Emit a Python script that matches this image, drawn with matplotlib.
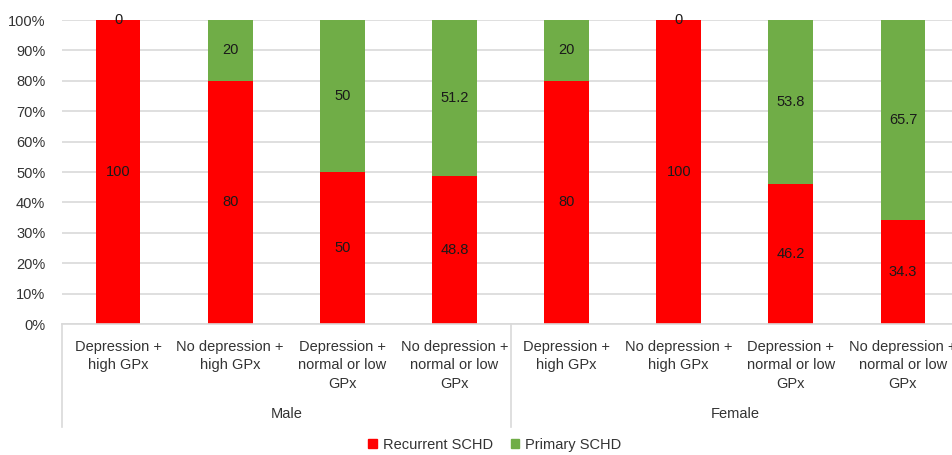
import matplotlib
matplotlib.use("Agg")
import matplotlib.pyplot as plt
from matplotlib.transforms import blended_transform_factory
from matplotlib.patches import Patch
import numpy as np

plt.rcParams['font.family'] = ['Liberation Sans', 'DejaVu Sans']

groups = ["Male", "Female"]
categories = [
    "Depression +\nhigh GPx",
    "No depression +\nhigh GPx",
    "Depression +\nnormal or low\nGPx",
    "No depression +\nnormal or low\nGPx",
]
recurrent = [100, 80, 50, 48.8, 80, 100, 46.2, 34.3]
primary = [0, 20, 50, 51.2, 20, 0, 53.8, 65.7]
recurrent_labels = ["100", "80", "50", "48.8", "80", "100", "46.2", "34.3"]
primary_labels = ["0", "20", "50", "51.2", "20", "0", "53.8", "65.7"]

RED = "#ff0000"
GREEN = "#70ad47"
GRID = "#d9d9d9"
TEXT = "#333333"
FS = 10.5

W, H = 953, 455
fig = plt.figure(figsize=(W / 100, H / 100), dpi=100)
left, right, top, bottom = 62, 959, 20, 324
ax = fig.add_axes([left / W, 1 - bottom / H, (right - left) / W, (bottom - top) / H])

n = len(recurrent)
x = np.arange(n)
ax.bar(x, recurrent, width=0.4, color=RED, zorder=2)
ax.bar(x, primary, width=0.4, bottom=recurrent, color=GREEN, zorder=2)

for i in range(n):
    ax.text(x[i], recurrent[i] / 2, recurrent_labels[i], ha="center", va="center",
            fontsize=FS, color="#1a1a1a", zorder=3)
    ax.text(x[i], recurrent[i] + primary[i] / 2, primary_labels[i], ha="center", va="center",
            fontsize=FS, color="#1a1a1a", zorder=3)

ax.set_xlim(-0.5, n - 0.5)
ax.set_ylim(0, 100)
ax.set_yticks(np.arange(0, 101, 10))
ax.set_yticklabels([f"{v}%" for v in range(0, 101, 10)], fontsize=FS, color=TEXT)
ax.yaxis.grid(True, color=GRID, linewidth=1.2, zorder=0)
ax.set_axisbelow(True)
ax.tick_params(axis="y", length=0, pad=12)
ax.tick_params(axis="x", length=0, labelbottom=False)
for s in ["top", "right", "left"]:
    ax.spines[s].set_visible(False)
ax.spines["bottom"].set_color(GRID)
ax.spines["bottom"].set_linewidth(1.2)

trans = blended_transform_factory(ax.transData, fig.transFigure)
labels = categories * len(groups)
for i, lab in enumerate(labels):
    ax.text(x[i], 1 - 339.5 / H, lab, transform=trans, ha="center", va="top",
            fontsize=FS, color=TEXT, linespacing=1.45)

ncat = len(categories)
for g, name in enumerate(groups):
    center = g * ncat + (ncat - 1) / 2
    ax.text(center, 1 - 414 / H, name, transform=trans, ha="center", va="center",
            fontsize=FS, color=TEXT)

# group separators below the axis
for xb in [-0.5, ncat - 0.5, n - 0.5]:
    ax.plot([xb, xb], [1 - bottom / H, 1 - 427 / H], transform=trans, color=GRID,
            linewidth=1.2, clip_on=False)

# legend
handles = [Patch(color=RED, label="Recurrent SCHD"), Patch(color=GREEN, label="Primary SCHD")]
fig.legend(handles=handles, loc="center", bbox_to_anchor=(495 / W, 1 - 445 / H), ncol=2,
           frameon=False, fontsize=FS, handlelength=0.6, handleheight=0.6,
           handletextpad=0.4, columnspacing=1.2, labelcolor=TEXT)

fig.savefig("out.png", dpi=100)
